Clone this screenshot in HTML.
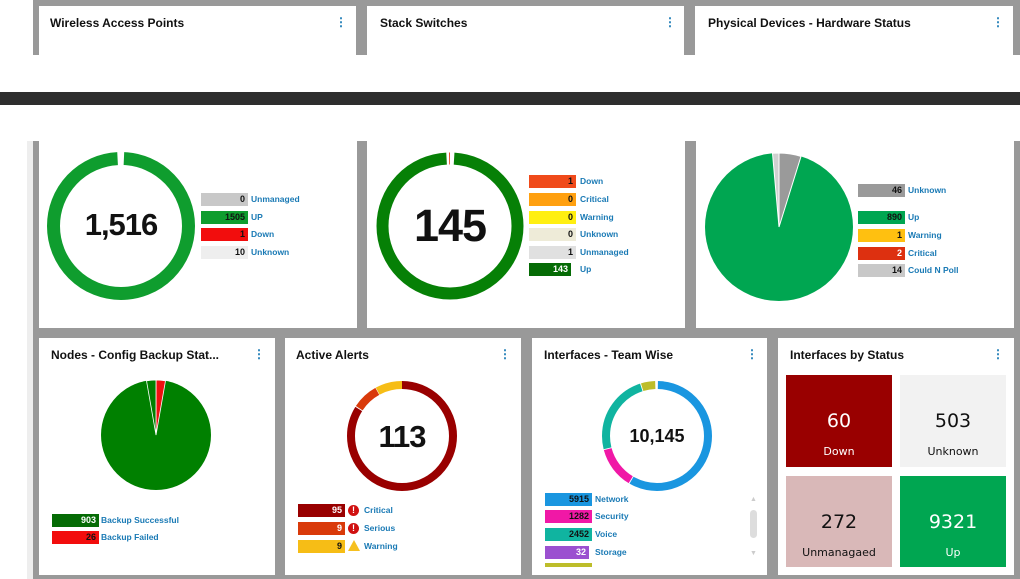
<!DOCTYPE html>
<html><head><meta charset="utf-8"><style>
*{margin:0;padding:0;box-sizing:border-box}
body{width:1020px;height:579px;background:#fff;position:relative;overflow:hidden;font-family:"Liberation Sans",Arial,sans-serif}
.a{position:absolute}
.card{position:absolute;background:#fff}
.t{position:absolute;font-weight:bold;font-size:12px;color:#111}
.k{position:absolute;color:#1a7ab5;font-weight:bold;font-size:12px;line-height:12px}
.lg{position:absolute;height:13px;width:47px;font-size:9px;font-weight:bold;text-align:right;line-height:13px;padding-right:3px;color:#111}
.ll{position:absolute;font-size:8.5px;font-weight:bold;color:#1a7ab5;line-height:13px}
.tile{position:absolute;width:106px;text-align:center;font-family:"DejaVu Sans",sans-serif}
.tile .n{font-size:19px;margin-top:35px}
.tile .l{font-size:11px;margin-top:13px}
.big{position:absolute;text-align:center;font-weight:bold;color:#111;letter-spacing:-1px}
</style></head><body>
<div class="a" style="left:33px;top:0;width:987px;height:55px;background:#999"></div>
<div class="card" style="left:39px;top:6px;width:317px;height:49px"></div>
<div class="card" style="left:367px;top:6px;width:317px;height:49px"></div>
<div class="card" style="left:695px;top:6px;width:318px;height:49px"></div>
<div class="t" style="left:50px;top:16px">Wireless Access Points</div>
<div class="t" style="left:380px;top:16px">Stack Switches</div>
<div class="t" style="left:708px;top:16px">Physical Devices - Hardware Status</div>
<div class="k" style="left:335px;top:16px">⋮</div>
<div class="k" style="left:664px;top:16px">⋮</div>
<div class="k" style="left:992px;top:16px">⋮</div>
<div class="a" style="left:0;top:92px;width:1020px;height:13px;background:#2e2e2e"></div>
<div class="a" style="left:27px;top:141px;width:6px;height:438px;background:#eee"></div>
<div class="a" style="left:33px;top:141px;width:987px;height:438px;background:#999"></div>
<div class="card" style="left:39px;top:141px;width:318px;height:187px"></div>
<div class="card" style="left:367px;top:141px;width:318px;height:187px"></div>
<div class="card" style="left:696px;top:141px;width:318px;height:187px"></div>
<div class="card" style="left:39px;top:338px;width:236px;height:237px"></div>
<div class="card" style="left:285px;top:338px;width:236px;height:237px"></div>
<div class="card" style="left:532px;top:338px;width:235px;height:237px"></div>
<div class="card" style="left:778px;top:338px;width:236px;height:237px"></div>

<svg class="a" style="left:0;top:0" width="1020" height="579">
<g fill="none">
<circle cx="121" cy="226" r="67.5" stroke="#0f9d2e" stroke-width="13" pathLength="360" stroke-dasharray="355 5" stroke-dashoffset="-2.5" transform="rotate(-90 121 226)"/>
<circle cx="450" cy="226" r="67.5" stroke="#068006" stroke-width="12" pathLength="360" stroke-dasharray="354 6" stroke-dashoffset="-3.5" transform="rotate(-90 450 226)"/>
<circle cx="450" cy="226" r="67.5" stroke="#e8401c" stroke-width="12" pathLength="360" stroke-dasharray="1.2 360" stroke-dashoffset="1.5" transform="rotate(-90 450 226)"/>
<g transform="rotate(-90 402 436)">
<circle cx="402" cy="436" r="51" stroke="#990000" stroke-width="8" pathLength="360" stroke-dasharray="302 360"/>
<circle cx="402" cy="436" r="51" stroke="#d93a0a" stroke-width="8" pathLength="360" stroke-dasharray="28 360" stroke-dashoffset="-303"/>
<circle cx="402" cy="436" r="51" stroke="#f6bd16" stroke-width="8" pathLength="360" stroke-dasharray="28.5 360" stroke-dashoffset="-331.5"/>
</g>
<g transform="rotate(-90 657 436)">
<circle cx="657" cy="436" r="51" stroke="#1a96e0" stroke-width="8" pathLength="360" stroke-dasharray="209 360" stroke-dashoffset="-1"/>
<circle cx="657" cy="436" r="51" stroke="#f018a6" stroke-width="8" pathLength="360" stroke-dasharray="44 360" stroke-dashoffset="-211"/>
<circle cx="657" cy="436" r="51" stroke="#10b4a0" stroke-width="8" pathLength="360" stroke-dasharray="86 360" stroke-dashoffset="-256"/>
<circle cx="657" cy="436" r="51" stroke="#bdbd2a" stroke-width="8" pathLength="360" stroke-dasharray="15 360" stroke-dashoffset="-343"/>
</g>
</g>
<circle cx="779" cy="227" r="74" fill="#00a651"/>
<path d="M779 227 L779 153 A74 74 0 0 1 801 156.4 Z" fill="#9a9a9a" stroke="#fff" stroke-width="1"/>
<path d="M779 227 L772.5 153.3 A74 74 0 0 1 779 153 Z" fill="#d0d0d0" stroke="#fff" stroke-width="1"/>
<circle cx="156" cy="435" r="55" fill="#008000"/>
<path d="M156 435 L156 380 A55 55 0 0 1 165.5 380.8 Z" fill="#f01010" stroke="#fff" stroke-width="0.8"/>
<path d="M156 435 L146.5 380.8 A55 55 0 0 1 156 380 Z" fill="#008000" stroke="#fff" stroke-width="0.8"/>
</svg>

<div class="big" style="left:66px;top:207px;width:110px;font-size:31px">1,516</div>
<div class="big" style="left:395px;top:200px;width:110px;font-size:45px">145</div>
<div class="big" style="left:352px;top:419px;width:100px;font-size:31px">113</div>
<div class="big" style="left:607px;top:426px;width:100px;font-size:18px;letter-spacing:0">10,145</div>

<div class="lg" style="left:201px;top:193px;background:#c8c8c8">0</div><div class="ll" style="left:251px;top:193px">Unmanaged</div>
<div class="lg" style="left:201px;top:211px;background:#0f9d2e">1505</div><div class="ll" style="left:251px;top:211px">UP</div>
<div class="lg" style="left:201px;top:228px;background:#f20d0d">1</div><div class="ll" style="left:251px;top:228px">Down</div>
<div class="lg" style="left:201px;top:246px;background:#eee">10</div><div class="ll" style="left:251px;top:246px">Unknown</div>
<div class="lg" style="left:529px;top:175px;background:#f04a1a">1</div><div class="ll" style="left:580px;top:175px">Down</div>
<div class="lg" style="left:529px;top:193px;background:#ffa010">0</div><div class="ll" style="left:580px;top:193px">Critical</div>
<div class="lg" style="left:529px;top:211px;background:#ffef10">0</div><div class="ll" style="left:580px;top:211px">Warning</div>
<div class="lg" style="left:529px;top:228px;background:#eeebd8">0</div><div class="ll" style="left:580px;top:228px">Unknown</div>
<div class="lg" style="left:529px;top:246px;background:#e0e0e0">1</div><div class="ll" style="left:580px;top:246px">Unmanaged</div>
<div class="lg" style="left:529px;top:263px;width:42px;background:#056b05;color:#fff">143</div><div class="ll" style="left:580px;top:263px">Up</div>
<div class="lg" style="left:858px;top:184px;background:#9a9a9a">46</div><div class="ll" style="left:908px;top:184px">Unknown</div>
<div class="lg" style="left:858px;top:211px;background:#00a651">890</div><div class="ll" style="left:908px;top:211px">Up</div>
<div class="lg" style="left:858px;top:229px;background:#ffc010">1</div><div class="ll" style="left:908px;top:229px">Warning</div>
<div class="lg" style="left:858px;top:247px;background:#dd3010;color:#fff">2</div><div class="ll" style="left:908px;top:247px">Critical</div>
<div class="lg" style="left:858px;top:264px;background:#c8c8c8">14</div><div class="ll" style="left:908px;top:264px">Could N Poll</div>

<div class="t" style="left:51px;top:348px">Nodes - Config Backup Stat...</div>
<div class="t" style="left:296px;top:348px">Active Alerts</div>
<div class="t" style="left:544px;top:348px">Interfaces - Team Wise</div>
<div class="t" style="left:790px;top:348px">Interfaces by Status</div>
<div class="k" style="left:253px;top:348px">⋮</div>
<div class="k" style="left:499px;top:348px">⋮</div>
<div class="k" style="left:746px;top:348px">⋮</div>
<div class="k" style="left:992px;top:348px">⋮</div>

<div class="lg" style="left:52px;top:514px;background:#056b05;color:#fff">903</div><div class="ll" style="left:101px;top:514px">Backup Successful</div>
<div class="lg" style="left:52px;top:531px;background:#f20d0d">26</div><div class="ll" style="left:101px;top:531px">Backup Failed</div>

<div class="lg" style="left:298px;top:504px;background:#990000;color:#fff">95</div>
<div class="lg" style="left:298px;top:522px;background:#d93a0a;color:#fff">9</div>
<div class="lg" style="left:298px;top:540px;background:#f6bd16">9</div>
<div class="a" style="left:348px;top:505px;width:11px;height:11px;border-radius:50%;background:#d01010;color:#fff;font-size:9px;font-weight:bold;text-align:center;line-height:11px">!</div>
<div class="a" style="left:348px;top:523px;width:11px;height:11px;border-radius:50%;background:#d01010;color:#fff;font-size:9px;font-weight:bold;text-align:center;line-height:11px">!</div>
<div class="a" style="left:348px;top:540px;width:0;height:0;border-left:6px solid transparent;border-right:6px solid transparent;border-bottom:11px solid #f6c020"></div>
<div class="ll" style="left:364px;top:504px">Critical</div>
<div class="ll" style="left:364px;top:522px">Serious</div>
<div class="ll" style="left:364px;top:540px">Warning</div>

<div class="lg" style="left:545px;top:493px;background:#1a96e0">5915</div><div class="ll" style="left:595px;top:493px">Network</div>
<div class="lg" style="left:545px;top:510px;background:#f018a6">1282</div><div class="ll" style="left:595px;top:510px">Security</div>
<div class="lg" style="left:545px;top:528px;background:#10b4a0">2452</div><div class="ll" style="left:595px;top:528px">Voice</div>
<div class="lg" style="left:545px;top:546px;width:44px;background:#9b50d0;color:#fff">32</div><div class="ll" style="left:595px;top:546px">Storage</div>
<div class="a" style="left:545px;top:563px;width:47px;height:4px;background:#bdbd2a"></div>
<div class="a" style="left:750px;top:510px;width:7px;height:28px;border-radius:4px;background:#ddd"></div>
<div class="a" style="left:750px;top:496px;color:#ccc;font-size:7px">▲</div>
<div class="a" style="left:750px;top:550px;color:#ccc;font-size:7px">▼</div>

<div class="tile" style="left:786px;top:375px;height:92px;background:#990000;color:#fff"><div class="n">60</div><div class="l">Down</div></div>
<div class="tile" style="left:900px;top:375px;height:92px;background:#f2f2f2;color:#111"><div class="n">503</div><div class="l">Unknown</div></div>
<div class="tile" style="left:786px;top:476px;height:91px;background:#d9b8b8;color:#111"><div class="n">272</div><div class="l">Unmanagaed</div></div>
<div class="tile" style="left:900px;top:476px;height:91px;background:#00a651;color:#fff"><div class="n">9321</div><div class="l">Up</div></div>
</body></html>
